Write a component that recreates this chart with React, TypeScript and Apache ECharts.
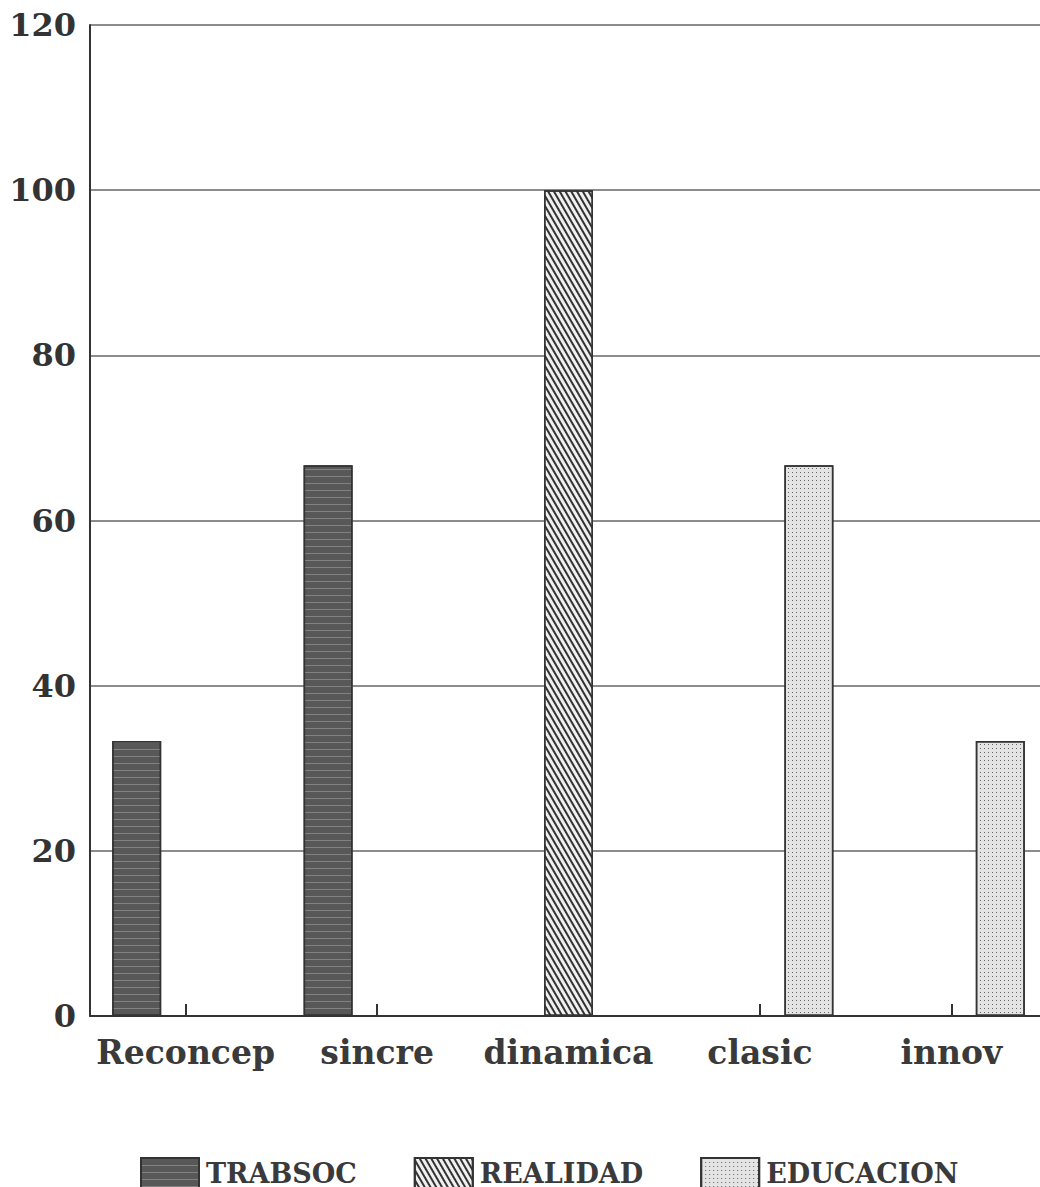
import React, { useEffect, useRef } from "react";
import * as echarts from "echarts";

const categories = ["Reconcep", "sincre", "dinamica", "clasic", "innov"];
const seriesNames = ["TRABSOC", "REALIDAD", "EDUCACION"];
const trabsoc: (number | string)[] = [33.3, 66.7, "-", "-", "-"];
const realidad: (number | string)[] = ["-", "-", 100, "-", "-"];
const educacion: (number | string)[] = ["-", "-", "-", 66.7, 33.3];
const yTicks = { min: 0, max: 120, interval: 20 };

export default function App() {
  const ref = useRef<HTMLDivElement>(null);
  useEffect(() => {
    if (!ref.current) return;
    const chart = echarts.init(ref.current, null, { renderer: "svg" });
    const font = "DejaVu Serif";
    const border = { borderColor: "#333", borderWidth: 1.5 };
    chart.setOption({
      animation: false,
      backgroundColor: "#fff",
      grid: { left: 90, top: 25, width: 957, height: 991 },
      legend: {
        left: 135,
        top: 1152,
        icon: "rect",
        itemWidth: 58,
        itemHeight: 30,
        itemGap: 57,
        data: seriesNames,
        textStyle: { fontFamily: font, fontSize: 27, fontWeight: "bold", color: "#3a3a3a", padding: [6, 0, 0, 2] },
      },
      xAxis: {
        type: "category",
        data: categories,
        boundaryGap: true,
        axisLine: { lineStyle: { color: "#333", width: 2 } },
        axisTick: { show: true, inside: true, alignWithLabel: true, interval: 0, length: 12, lineStyle: { color: "#333", width: 2 } },
        axisLabel: { interval: 0, fontFamily: font, fontSize: 33, fontWeight: "bold", color: "#3a3a3a", margin: 20 },
      },
      yAxis: {
        type: "value",
        min: yTicks.min,
        max: yTicks.max,
        interval: yTicks.interval,
        axisLine: { show: true, lineStyle: { color: "#333", width: 2 } },
        axisTick: { show: false },
        splitLine: { lineStyle: { color: "#666", width: 1.5 } },
        axisLabel: { fontFamily: font, fontSize: 32, fontWeight: "bold", color: "#333", margin: 14 },
      },
      series: [
        {
          name: seriesNames[0],
          type: "bar",
          data: trabsoc,
          barWidth: 49,
          barGap: "0%",
          itemStyle: {
            color: "#585858",
            ...border,
            decal: {
              symbol: "rect",
              symbolSize: 1,
              dashArrayX: [1, 0],
              dashArrayY: [1, 6],
              color: "rgba(255,255,255,0.25)",
            },
          },
        },
        {
          name: seriesNames[1],
          type: "bar",
          data: realidad,
          barWidth: 49,
          barGap: "0%",
          itemStyle: {
            color: "#f0f0f0",
            ...border,
            decal: {
              symbol: "rect",
              symbolSize: 1,
              dashArrayX: [1, 0],
              dashArrayY: [2, 3],
              rotation: Math.PI / 3,
              color: "#333",
            },
          },
        },
        {
          name: seriesNames[2],
          type: "bar",
          data: educacion,
          barWidth: 49,
          barGap: "0%",
          itemStyle: {
            color: "#e4e4e4",
            ...border,
            decal: {
              symbol: "rect",
              symbolSize: 1,
              dashArrayX: [1, 3],
              dashArrayY: [1, 3],
              color: "#666",
            },
          },
        },
      ],
    });
    return () => chart.dispose();
  }, []);
  return (
    <div style={{ width: 1040, height: 1187, position: "absolute", left: 0, top: 0, overflow: "hidden", background: "#fff" }}>
      <div ref={ref} style={{ width: 1060, height: 1187 }} />
    </div>
  );
}
